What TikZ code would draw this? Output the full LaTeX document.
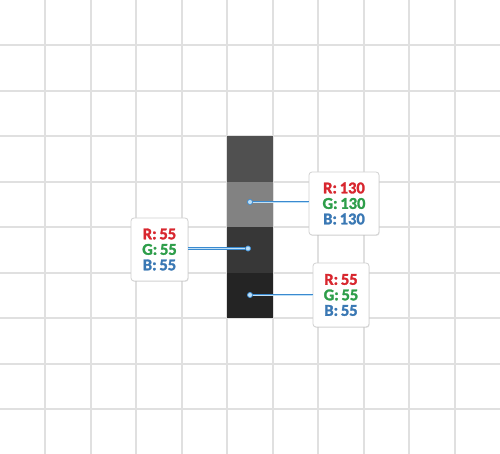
\documentclass[tikz,border=0pt]{standalone}
\usepackage{fontspec}
\setmainfont{Carlito}[BoldFeatures={FakeBold=1.6}]
\usetikzlibrary{shadows}
\definecolor{gridgray}{HTML}{E0E0E0}
\definecolor{rred}{HTML}{D8262E}
\definecolor{ggreen}{HTML}{2E9E4A}
\definecolor{bblue}{HTML}{3A78B4}
\definecolor{leadblue}{HTML}{3A8AD0}
\definecolor{leadlight}{HTML}{BFE0F7}
\newcommand{\rgbtext}[3]{\textcolor{rred}{R:\,#1}\\\textcolor{ggreen}{G:\,#2}\\\textcolor{bblue}{B:\,#3}}
\begin{document}
\begin{tikzpicture}[x=1pt,y=-1pt,
    swatch/.style={draw=none,minimum width=45.45pt,minimum height=45.45pt,inner sep=0pt},
    rgb box/.style={draw=black!18,fill=white,rounded corners=3pt,line width=0.8pt,align=center,
        inner sep=0pt,font=\bfseries\fontsize{16.5}{15.5}\selectfont,
        drop shadow={opacity=0.18,shadow xshift=0.6pt,shadow yshift=-0.9pt}},
    pin dot/.style={circle,draw=leadblue,fill=leadlight,line width=0.6pt,minimum size=5pt,inner sep=0pt},
    lead/.style={draw=leadblue,double=leadlight,double distance=0.9pt,line width=0.9pt}]
    \useasboundingbox[fill=white] (0,0) rectangle (500,454);

    % grid
    \foreach \gx in {45,91,136,182,227,273,318,364,409,455}
        \draw[gridgray,line width=1.2pt] (\gx,0) -- (\gx,454);
    \foreach \gy in {45,91,136,182,227,273,318,364,409}
        \draw[gridgray,line width=1.2pt] (0,\gy) -- (500,\gy);

    % swatches
    \node[swatch,fill={rgb,255:red,80;green,80;blue,80}] at (250,159.1) (s1) {};
    \node[swatch,fill={rgb,255:red,130;green,130;blue,130}] at (250,204.5) (s2) {};
    \node[swatch,fill={rgb,255:red,55;green,55;blue,55}] at (250,250) (s3) {};
    \node[swatch,fill={rgb,255:red,36;green,36;blue,36}] at (250,295.4) (s4) {};

    % boxes
    \node[rgb box,minimum width=70pt,minimum height=63pt] at (344,203.5) (boxa) {\rgbtext{130}{130}{130}};
    \node[rgb box,minimum width=57pt,minimum height=63pt] at (159.5,249.5) (boxb) {\rgbtext{55}{55}{55}};
    \node[rgb box,minimum width=56pt,minimum height=64pt] at (341,295) (boxc) {\rgbtext{55}{55}{55}};

    % pins
    \node[pin dot] at (250,202) (pa) {};
    \node[pin dot] at (248,248.5) (pb) {};
    \node[pin dot] at (250,295) (pc) {};

    \path[lead]
        (pa) -- (pa -| boxa.west)
        (pb) -- (pb -| boxb.east)
        (pc) -- (pc -| boxc.west);
    \node[pin dot] at (pa) {};
    \node[pin dot] at (pb) {};
    \node[pin dot] at (pc) {};
\end{tikzpicture}
\end{document}
